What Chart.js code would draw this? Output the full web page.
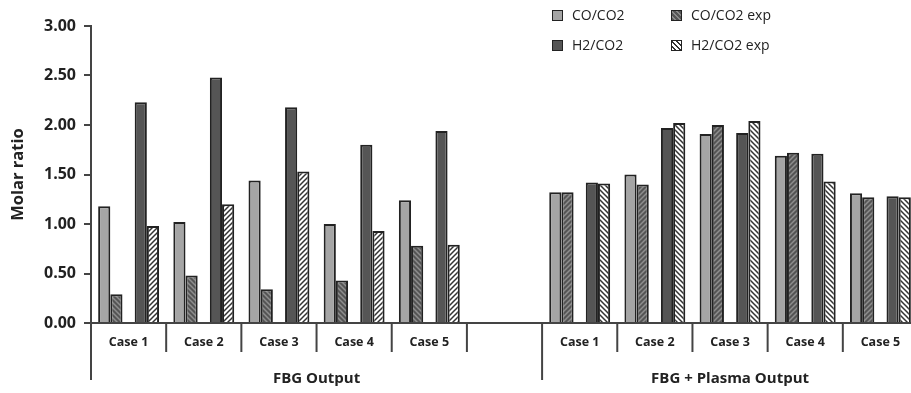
<!DOCTYPE html>
<html>
<head>
<meta charset="utf-8">
<script src="https://cdn.jsdelivr.net/npm/chart.js@4/dist/chart.umd.min.js"></script>
<style>
  html, body { margin: 0; padding: 0; background: #fff; overflow: hidden; }
  #wrap { position: relative; width: 918px; height: 393px; }
  #legend { position: absolute; left: 552px; top: 5px; font-family: "Open Sans", sans-serif; font-size: 14px; color: #222; }
  .item { position: absolute; white-space: nowrap; line-height: 20px; }
  .sw { display: inline-block; width: 9px; height: 9px; border: 1.5px solid #222; vertical-align: -1px; margin-right: 9px; }
</style>
</head>
<body>
<div id="wrap">
  <canvas id="grafica" width="918" height="393"></canvas>
  <div id="legend">
    <div class="item" style="left:0;top:0"><span class="sw" style="background:#a5a5a5"></span>CO/CO2</div>
    <div class="item" style="left:119px;top:0"><span class="sw" style="background:repeating-linear-gradient(45deg,#555 0 2px,#8a8a8a 2px 3.5px)"></span>CO/CO2 exp</div>
    <div class="item" style="left:0;top:30px"><span class="sw" style="background:#555"></span>H2/CO2</div>
    <div class="item" style="left:119px;top:30px"><span class="sw" style="background:repeating-linear-gradient(45deg,#fff 0 2px,#333 2px 3.5px)"></span>H2/CO2 exp</div>
  </div>
</div>
<script>
// datos
const casos = ['Case 1', 'Case 2', 'Case 3', 'Case 4', 'Case 5', '', 'Case 1', 'Case 2', 'Case 3', 'Case 4', 'Case 5'];
const grupos = ['FBG Output', 'FBG + Plasma Output'];
const grupoInicio = [0, 6];   // indice de la primera categoria de cada grupo
const grupoFin = [5, 10];

const coCo2    = [1.18, 1.02, 1.44, 1.00, 1.24, null, 1.32, 1.50, 1.91, 1.69, 1.31];
const coCo2Exp = [0.29, 0.48, 0.34, 0.43, 0.78, null, 1.32, 1.40, 2.00, 1.72, 1.27];
const h2Co2    = [2.23, 2.48, 2.18, 1.80, 1.94, null, 1.42, 1.97, 1.92, 1.71, 1.28];
const h2Co2Exp = [0.98, 1.20, 1.53, 0.93, 0.79, null, 1.41, 2.02, 2.04, 1.43, 1.27];

const yTicks = [0, 0.5, 1, 1.5, 2, 2.5, 3];

// patrones de rayado
function rayado(fondo, linea, dir) {
    const s = 5;
    const c = document.createElement('canvas');
    c.width = s; c.height = s;
    const g = c.getContext('2d');
    g.fillStyle = fondo;
    g.fillRect(0, 0, s, s);
    g.strokeStyle = linea;
    g.lineWidth = 1.5;
    g.beginPath();
    if (dir === '/') {
        g.moveTo(-1, s + 1); g.lineTo(s + 1, -1);
        g.moveTo(-1, 1); g.lineTo(1, -1);
        g.moveTo(s - 1, s + 1); g.lineTo(s + 1, s - 1);
    } else {
        g.moveTo(-1, -1); g.lineTo(s + 1, s + 1);
        g.moveTo(s - 1, -1); g.lineTo(s + 1, 1);
        g.moveTo(-1, s - 1); g.lineTo(1, s + 1);
    }
    g.stroke();
    return g.createPattern(c, 'repeat');
}

const coExpA = rayado('#555', '#8e8e8e', '\\');
const coExpB = rayado('#555', '#8e8e8e', '/');
const h2ExpA = rayado('#fff', '#333', '/');
const h2ExpB = rayado('#fff', '#333', '\\');

const coExpFill = casos.map((c, i) => i < grupoInicio[1] ? coExpA : coExpB);
const h2ExpFill = casos.map((c, i) => i < grupoInicio[1] ? h2ExpA : h2ExpB);

const borde = '#222';
const ejeColor = '#444';

// lineas de separacion y titulos de grupo bajo el eje x
const separadores = {
    id: 'separadores',
    afterDraw(chart) {
        const x = chart.scales.x;
        const y = chart.scales.y;
        const ctx = chart.ctx;
        const base = y.getPixelForValue(0);
        const paso = x.getPixelForValue(1) - x.getPixelForValue(0);
        ctx.save();
        ctx.strokeStyle = ejeColor;
        ctx.lineWidth = 2;
        for (let i = 0; i <= casos.length - 1; i++) {
            const px = x.getPixelForValue(i) - paso / 2;
            const largo = (i === 0 || i === grupoInicio[1]) ? 57 : 29;
            ctx.beginPath();
            ctx.moveTo(px, base);
            ctx.lineTo(px, base + largo);
            ctx.stroke();
        }
        ctx.fillStyle = '#222';
        ctx.font = 'bold 15px "Open Sans"';
        ctx.textAlign = 'center';
        ctx.textBaseline = 'middle';
        grupos.forEach((g, k) => {
            const cx = (x.getPixelForValue(grupoInicio[k]) + x.getPixelForValue(grupoFin[k])) / 2;
            ctx.fillText(g, cx, base + 56);
        });
        ctx.restore();
    }
};

const ctx = document.getElementById('grafica').getContext('2d');

let chart = new Chart(ctx, {
    type: 'bar',
    data: {
        labels: casos,
        datasets: [
            { label: 'CO/CO2', data: coCo2, backgroundColor: '#a5a5a5' },
            { label: 'CO/CO2 exp', data: coCo2Exp, backgroundColor: coExpFill },
            { label: '', data: casos.map(() => null), backgroundColor: 'transparent' },
            { label: 'H2/CO2', data: h2Co2, backgroundColor: '#555' },
            { label: 'H2/CO2 exp', data: h2Co2Exp, backgroundColor: h2ExpFill }
        ].map(d => Object.assign(d, {
            borderColor: borde,
            borderWidth: 2,
            barPercentage: 1.0,
            categoryPercentage: 0.81
        }))
    },
    options: {
        responsive: false,
        animation: false,
        layout: { padding: { top: 26, right: 0, left: 0, bottom: 0 } },
        plugins: {
            legend: { display: false },
            tooltip: { enabled: false }
        },
        scales: {
            x: {
                grid: { display: false, drawTicks: false },
                border: { color: ejeColor, width: 2 },
                ticks: {
                    color: '#222',
                    font: { family: 'Open Sans', size: 12.5, weight: 'bold' },
                    padding: 12,
                    maxRotation: 0,
                    autoSkip: false
                },
                afterFit(s) { s.height = 70; }
            },
            y: {
                min: 0,
                max: 3,
                afterBuildTicks(s) { s.ticks = yTicks.map(v => ({ value: v })); },
                grid: { drawOnChartArea: false, drawTicks: true, tickLength: 7, color: ejeColor, lineWidth: 2 },
                border: { color: ejeColor, width: 2 },
                ticks: {
                    color: '#222',
                    font: { family: 'Open Sans', size: 16, weight: 'bold' },
                    padding: 8,
                    callback: v => v.toFixed(2)
                },
                title: {
                    display: true,
                    text: 'Molar ratio',
                    color: '#222',
                    font: { family: 'Open Sans', size: 16.5, weight: 'bold' },
                    padding: { top: 8, bottom: 0 }
                },
                afterFit(s) { s.width = 91; }
            }
        }
    },
    plugins: [separadores]
});
</script>
</body>
</html>
